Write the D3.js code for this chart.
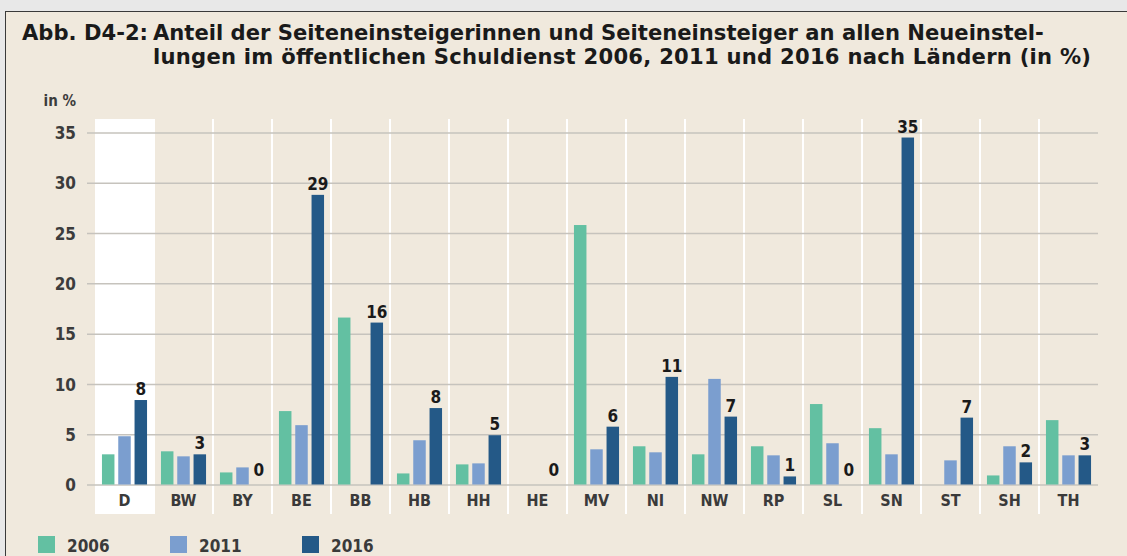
<!DOCTYPE html>
<html>
<head>
<meta charset="utf-8">
<script src="https://cdn.jsdelivr.net/npm/d3@7"></script>
<style>
  html, body { margin: 0; padding: 0; background: #e8e8e8; }
  svg { display: block; }
</style>
</head>
<body>
<svg id="chart" width="1127" height="556"></svg>
<script>
// ---- data ----
const categories = ["D","BW","BY","BE","BB","HB","HH","HE","MV","NI","NW","RP","SL","SN","ST","SH","TH"];
const years = ["2006","2011","2016"];
const v2006 = [3.0, 3.3, 1.2, 7.3, 16.6, 1.1, 2.0, null, 25.8, 3.8, 3.0, 3.8, 8.0, 5.6, null, 0.9, 6.4];
const v2011 = [4.8, 2.8, 1.7, 5.9, null, 4.4, 2.1, null, 3.5, 3.2, 10.5, 2.9, 4.1, 3.0, 2.4, 3.8, 2.9];
const v2016 = [8.4, 3.0, 0, 28.8, 16.1, 7.6, 4.9, 0, 5.75, 10.7, 6.75, 0.8, 0, 34.5, 6.65, 2.2, 2.9];
const labels2016 = ["8","3","0","29","16","8","5","0","6","11","7","1","0","35","7","2","3"];
const yTicks = [0, 5, 10, 15, 20, 25, 30, 35];
const titleLine1a = "Abb. D4-2:";
const titleLine1b = "Anteil der Seiteneinsteigerinnen und Seiteneinsteiger an allen Neueinstel-";
const titleLine2 = "lungen im öffentlichen Schuldienst 2006, 2011 und 2016 nach Ländern (in %)";
const yUnit = "in %";

const colors = { "2006": "#63c0a2", "2011": "#7b9ecf", "2016": "#245987" };
const seriesValues = { "2006": v2006, "2011": v2011, "2016": v2016 };

const svg = d3.select("#chart");
const W = 1127, H = 556;
const condFont = "'DejaVu Sans Condensed', 'DejaVu Sans', sans-serif";

// panel
svg.append("rect").attr("x", 0).attr("y", 0).attr("width", W).attr("height", H).attr("fill", "#e8e8e8");
svg.append("rect").attr("x", 5.5).attr("y", 11.5).attr("width", W).attr("height", H).attr("fill", "#f0e9dd")
  .attr("stroke", "#3a3a3a").attr("stroke-width", 1);

// title
const titleFont = "'DejaVu Sans', sans-serif";
const tg = svg.append("g").attr("font-family", titleFont).attr("font-weight", "bold").attr("fill", "#1a1a1a");
const t1b = tg.append("text").attr("x", 153).attr("y", 40).attr("font-size", 20).text(titleLine1b);
const w = t1b.node().getComputedTextLength();
const fs = 20 * 891 / w;
t1b.attr("font-size", fs);
tg.append("text").attr("x", 22).attr("y", 40).attr("font-size", fs).text(titleLine1a);
tg.append("text").attr("x", 153).attr("y", 64).attr("font-size", fs)
  .attr("textLength", 938).attr("lengthAdjust", "spacing").text(titleLine2);

// scales
const x = d3.scaleBand().domain(categories).range([95, 1098]).paddingInner(0).paddingOuter(0);
const xi = d3.scaleBand().domain(years).range([0, x.bandwidth()]).paddingInner(0.233).paddingOuter(0.427);
const y = d3.scaleLinear().domain([0, 35]).range([484.5, 132.5]);

const bandTop = 119, bandBottom = 514;

// white highlight band for D
svg.append("rect").attr("x", x("D")).attr("y", bandTop).attr("width", x.bandwidth())
  .attr("height", bandBottom - bandTop).attr("fill", "#ffffff");

// separators
svg.append("g").selectAll("line").data(categories.slice(1)).join("line")
  .attr("x1", d => x(d)).attr("x2", d => x(d))
  .attr("y1", bandTop).attr("y2", bandBottom)
  .attr("stroke", "#ffffff").attr("stroke-width", 2);

// y axis grid + labels
const yAxis = d3.axisLeft(y).tickValues(yTicks).tickSize(-(1098 - 87)).tickPadding(14);
const ga = svg.append("g").attr("transform", "translate(87,0)").call(yAxis);
ga.select(".domain").remove();
ga.selectAll(".tick line").attr("stroke", "#c6c3bd").attr("stroke-width", 1.5);
ga.selectAll(".tick text")
  .attr("font-family", condFont)
  .attr("font-size", 17).attr("font-weight", "bold").attr("fill", "#3c3c3c")
  .attr("x", -11).attr("dy", "0.36em");

svg.append("text").attr("x", 76).attr("y", 106).attr("text-anchor", "end")
  .attr("font-family", condFont)
  .attr("font-size", 15).attr("font-weight", "bold").attr("fill", "#3c3c3c").text(yUnit);

// bars
const groups = svg.append("g").selectAll("g").data(categories).join("g")
  .attr("transform", d => `translate(${x(d)},0)`);
groups.selectAll("rect").data((d, i) => years.map(yr => ({ yr, v: seriesValues[yr][i] })))
  .join("rect")
  .filter(d => d.v !== null && d.v > 0)
  .attr("x", d => xi(d.yr)).attr("width", xi.bandwidth())
  .attr("y", d => y(d.v)).attr("height", d => y(0) - y(d.v))
  .attr("fill", d => colors[d.yr]);

// value labels (2016)
svg.append("g").selectAll("text").data(categories).join("text")
  .attr("x", d => x(d) + xi("2016") + xi.bandwidth() / 2)
  .attr("y", (d, i) => y(v2016[i]) - (v2016[i] === 0 ? 9 : 5))
  .attr("text-anchor", "middle")
  .attr("font-family", condFont)
  .attr("font-size", 17).attr("font-weight", "bold").attr("fill", "#1a1a1a")
  .text((d, i) => labels2016[i]);

// x axis labels
const xAxis = d3.axisBottom(x).tickSize(0).tickPadding(10);
const gx = svg.append("g").attr("transform", `translate(0,${y(0)})`).call(xAxis);
gx.select(".domain").remove();
gx.selectAll(".tick text")
  .attr("font-family", condFont).attr("font-weight", "bold")
  .attr("font-size", 16).attr("fill", "#3a3a3a").attr("dy", "0.71em");

// legend
const leg = svg.append("g").selectAll("g").data(years).join("g")
  .attr("transform", (d, i) => `translate(${[38, 170, 302][i]},536)`);
leg.append("rect").attr("width", 17).attr("height", 17).attr("fill", d => colors[d]);
leg.append("text").attr("x", 29).attr("y", 16)
  .attr("font-family", condFont).attr("font-weight", "bold")
  .attr("font-size", 17).attr("fill", "#3a3a3a").text(d => d);
</script>
</body>
</html>
